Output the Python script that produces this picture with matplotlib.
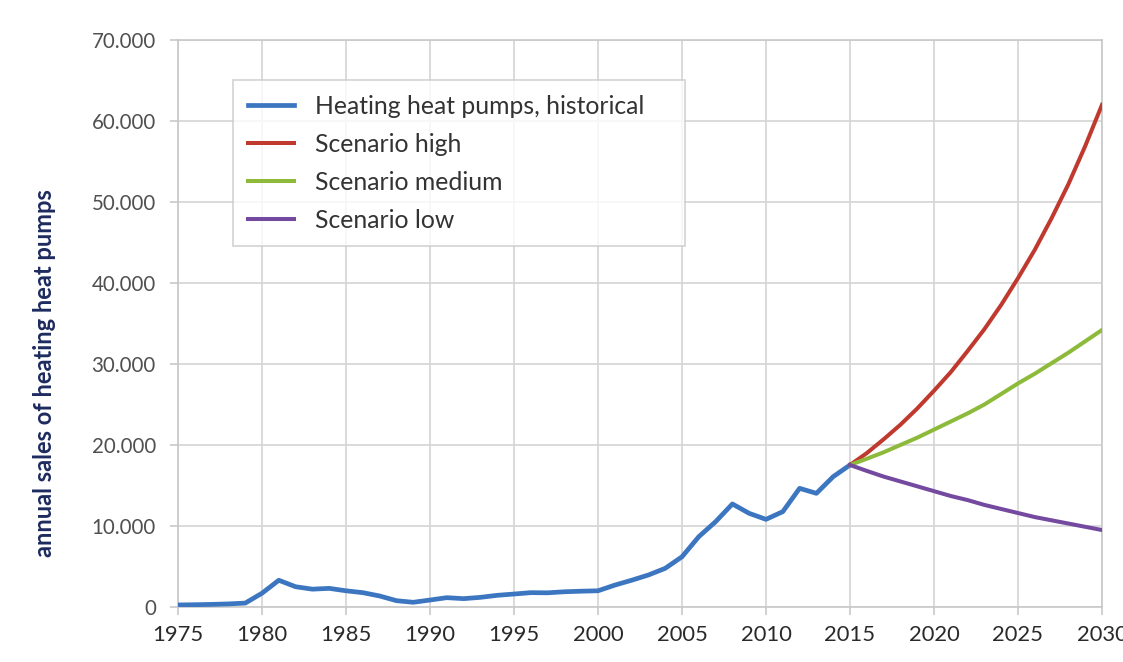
import matplotlib
matplotlib.use("Agg")
import matplotlib.pyplot as plt
from matplotlib.ticker import FuncFormatter, MultipleLocator

hist_years = [1975, 1976, 1977, 1978, 1979, 1980, 1981, 1982, 1983, 1984, 1985, 1986,
              1987, 1988, 1989, 1990, 1991, 1992, 1993, 1994, 1995, 1996, 1997, 1998,
              1999, 2000, 2001, 2002, 2003, 2004, 2005, 2006, 2007, 2008, 2009, 2010,
              2011, 2012, 2013, 2014, 2015]
hist_sales = [250, 280, 320, 380, 480, 1700, 3300, 2500, 2200, 2300, 2000, 1770,
              1360, 780, 580, 860, 1150, 1030, 1190, 1440, 1600, 1770, 1750, 1880,
              1950, 2000, 2700, 3300, 3950, 4770, 6200, 8680, 10530, 12720, 11560, 10820,
              11770, 14650, 14030, 16090, 17530]

scen_years = list(range(2015, 2031))
scen_high = [17530, 19000, 20700, 22500, 24500, 26700, 29000, 31600, 34300, 37300,
             40600, 44100, 48000, 52200, 56900, 62000]
scen_medium = [17530, 18300, 19100, 20000, 20900, 21900, 22900, 23900, 25000, 26300,
               27600, 28800, 30100, 31400, 32800, 34200]
scen_low = [17530, 16800, 16100, 15500, 14900, 14300, 13700, 13200, 12600, 12100,
            11600, 11100, 10700, 10300, 9900, 9500]

labels = ["Heating heat pumps, historical", "Scenario high", "Scenario medium", "Scenario low"]
colors = ["#3C76C0", "#C0392F", "#8DBA3A", "#7449A0"]

plt.rcParams['font.family'] = ['Lato', 'DejaVu Sans']

fig = plt.figure(figsize=(11.23, 6.62), dpi=100)
ax = fig.add_axes([0.1585, 0.0831, 0.8228, 0.8565])

lw = 3.4
ax.plot(hist_years, hist_sales, color=colors[0], lw=lw, label=labels[0], solid_joinstyle='round', zorder=3)
ax.plot(scen_years, scen_high, color=colors[1], lw=lw - 0.5, label=labels[1], zorder=3)
ax.plot(scen_years, scen_medium, color=colors[2], lw=lw - 0.5, label=labels[2], zorder=3)
ax.plot(scen_years, scen_low, color=colors[3], lw=lw - 0.5, label=labels[3], zorder=3)

ax.set_xlim(1975, 2030)
ax.set_ylim(0, 70000)
ax.xaxis.set_major_locator(MultipleLocator(5))
ax.yaxis.set_major_locator(MultipleLocator(10000))
ax.yaxis.set_major_formatter(FuncFormatter(lambda v, p: "0" if v == 0 else f"{int(v):,}".replace(",", ".")))

ax.grid(True, color="#d4d4d4", lw=1.2)
ax.set_axisbelow(True)
for s in ax.spines.values():
    s.set_color("#c8c8c8")
    s.set_linewidth(1.2)
ax.tick_params(axis='y', length=6, width=1.2, color="#c8c8c8", labelsize=14.8, labelcolor="#505050", pad=10)
ax.tick_params(axis='x', length=6, width=1.2, color="#c8c8c8", labelsize=15.8, labelcolor="#2a2a2a", pad=7)

fig.text(0.040, 1 - 373 / 662, "annual sales of heating heat pumps", rotation=90, fontsize=17,
         color="#1C2A5E", fontweight='bold', ha='center', va='center')

leg = ax.legend(loc="upper left", bbox_to_anchor=(0.0595, 0.929, 0.489, 0.0), mode="expand",
                fontsize=17.8, frameon=True, fancybox=False, edgecolor="#c8c8c8",
                handlelength=1.85, handletextpad=0.85, borderpad=0.6, labelspacing=0.6,
                borderaxespad=0)
leg.get_frame().set_linewidth(1.2)
for t in leg.get_texts():
    t.set_color("#333333")

fig.savefig("out.png", dpi=100, facecolor="white")
